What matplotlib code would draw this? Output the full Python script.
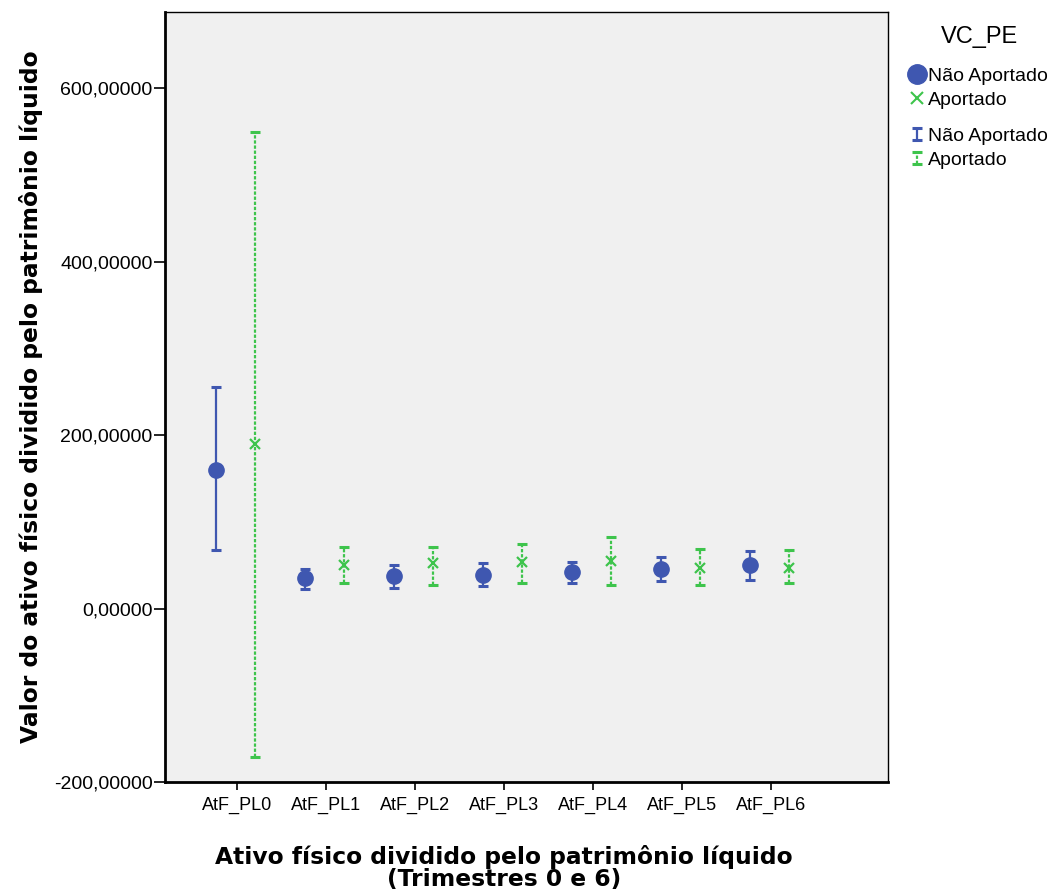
import matplotlib
matplotlib.use("Agg")
import matplotlib.pyplot as plt
from matplotlib.lines import Line2D
from matplotlib.container import ErrorbarContainer
from matplotlib.legend_handler import HandlerErrorbar
from matplotlib.ticker import FuncFormatter
import numpy as np

categories = ["AtF_PL0", "AtF_PL1", "AtF_PL2", "AtF_PL3", "AtF_PL4", "AtF_PL5", "AtF_PL6"]

# Não Aportado: mean with lower / upper limits
nao_mean = [160, 35, 37, 39, 42, 46, 50]
nao_low = [68, 23, 24, 26, 29, 32, 33]
nao_high = [255, 46, 50, 52, 54, 60, 66]

# Aportado: mean with lower / upper limits
apo_mean = [190, 50, 53, 54, 55, 47, 47]
apo_low = [-171, 29, 27, 29, 27, 27, 29]
apo_high = [550, 71, 71, 75, 83, 69, 67]

yticks = [-200, 0, 200, 400, 600]

blue = "#3F57B0"
green = "#3EC44C"
bg = "#F0F0F0"

plt.rcParams["font.family"] = ["Liberation Sans", "DejaVu Sans"]

W, H = 1058, 896
fig = plt.figure(figsize=(W / 100, H / 100), dpi=100)
ax = fig.add_axes([165 / W, 1 - 782 / H, 723 / W, 770 / H])
ax.set_facecolor(bg)

x = np.arange(len(categories))
off_b, off_g = -0.24, 0.20

nm, nl, nh = map(np.array, (nao_mean, nao_low, nao_high))
am, al, ah = map(np.array, (apo_mean, apo_low, apo_high))

eb1 = ax.errorbar(x + off_b, nm, yerr=[nm - nl, nh - nm], fmt="none",
                  ecolor=blue, elinewidth=1.6, capsize=3.8, capthick=2.2)
eb2 = ax.errorbar(x + off_g, am, yerr=[am - al, ah - am], fmt="none",
                  ecolor=green, elinewidth=1.6, capsize=3.8, capthick=2.2)
eb2[2][0].set_linestyle((0, (1.5, 0.8)))

ax.plot(x + off_b, nm, "o", color=blue, markersize=11, linestyle="none")
ax.plot(x + off_g, am, "x", color=green, markersize=7, markeredgewidth=1.6,
        linestyle="none")

ax.set_xlim(-0.81, 7.31)
ax.set_ylim(-200, 688)
ax.set_xticks(x)
ax.set_xticklabels(categories, fontsize=13)
ax.set_yticks(yticks)
ax.yaxis.set_major_formatter(FuncFormatter(lambda v, p: f"{v:.5f}".replace(".", ",")))
ax.tick_params(axis="y", labelsize=14, length=8, width=1.2, pad=1)
ax.tick_params(axis="x", length=6, width=1.2, pad=5)

for s in ax.spines.values():
    s.set_color("black")
    s.set_linewidth(1.0)
ax.spines["left"].set_linewidth(2)
ax.spines["bottom"].set_linewidth(2)

ax.set_ylabel("Valor do ativo físico dividido pelo patrimônio líquido",
              fontsize=16.8, fontweight="bold", family="DejaVu Sans")
ax.yaxis.set_label_coords(-(165 - 43) / 723, 0.5)
ax.set_xlabel("Ativo físico dividido pelo patrimônio líquido\n(Trimestres 0 e 6)",
              fontsize=16.8, fontweight="bold", family="DejaVu Sans",
              linespacing=0.95)
ax.xaxis.set_label_coords((504 - 165) / 723, -(868 - 782) / 770)
ax.xaxis.label.set_verticalalignment("center")

# Legend: title, marker entries, then error bar entries
fig.text(980 / W, 1 - 37 / H, "VC_PE", fontsize=17, ha="center", va="center")
h1 = [Line2D([], [], marker="o", color=blue, linestyle="none", markersize=14),
      Line2D([], [], marker="x", color=green, linestyle="none", markersize=8,
             markeredgewidth=1.5)]
leg1 = fig.legend(h1, ["Não Aportado", "Aportado"],
                  loc="upper left", bbox_to_anchor=(909 / W, 1 - 67 / H),
                  frameon=False, fontsize=14,
                  handlelength=0.8, handletextpad=0.2, labelspacing=0.35,
                  borderaxespad=0, borderpad=0)
leg2 = fig.legend([eb1, eb2], ["Não Aportado", "Aportado"],
                  loc="upper left", bbox_to_anchor=(909 / W, 1 - 127 / H),
                  frameon=False, fontsize=14, handlelength=0.8,
                  handletextpad=0.2, labelspacing=0.35, borderaxespad=0,
                  borderpad=0,
                  handler_map={ErrorbarContainer: HandlerErrorbar(yerr_size=0.3)})

fig.savefig("out.png", dpi=100, facecolor="white")
